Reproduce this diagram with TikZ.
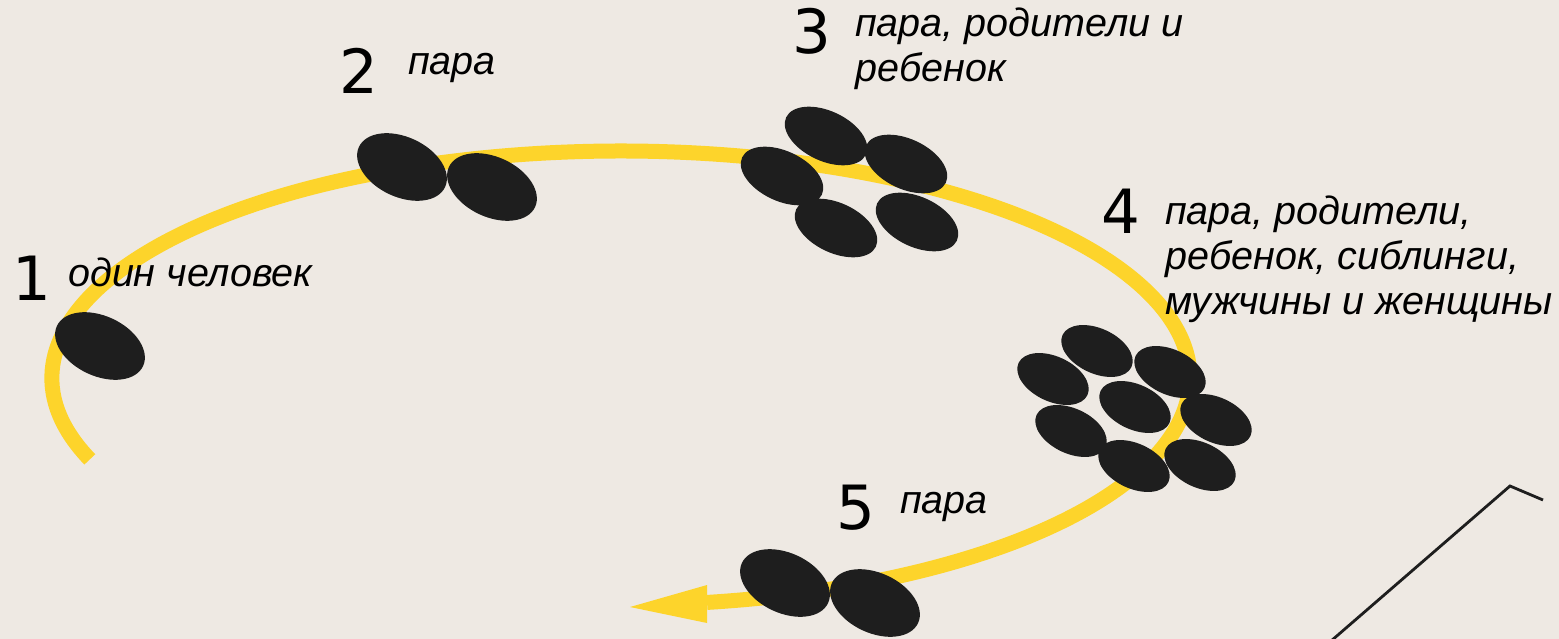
\documentclass[tikz,border=0pt]{standalone}
\usepackage{fontspec}
\setmainfont{Liberation Sans}
\newfontfamily\digitfont{DejaVu Sans}
\usetikzlibrary{shapes.geometric}
\definecolor{bgc}{HTML}{EEE9E3}
\definecolor{yel}{HTML}{FDD42B}
\definecolor{blk}{HTML}{1E1E1E}
\begin{document}
\begin{tikzpicture}[x=1pt,y=-1pt,
  lbl/.style={anchor=base west, inner sep=0pt, font=\fontsize{39.5}{45}\selectfont\itshape},
  num/.style={anchor=base, inner sep=0pt, font=\digitfont\fontsize{61}{61}\selectfont},
  person/.style={ellipse, fill=blk, inner sep=0pt, rotate=-25},
  big/.style={person, minimum width=95pt, minimum height=60pt},
  mid/.style={person, minimum width=88pt, minimum height=50pt},
  small/.style={person, minimum width=76pt, minimum height=45pt},
  road/.style={draw=yel, line width=15pt}]
\fill[bgc] (0,0) rectangle (1559,639);
\useasboundingbox (0,0) rectangle (1559,639);
% road
\coordinate (tail) at (89.8,459.4);
\coordinate (tip) at (630,607);
\coordinate (ab1) at (707,585);
\coordinate (ab2) at (707,623);
\draw[road] (tail) arc[start angle=159, end angle=441.3, x radius=569, y radius=227];
\fill[yel] (tip) -- (ab1) -- (ab2) -- cycle;
% people
\node[big] (p1) at (100,346) {};
\node[big] (p2a) at (402,167) {};
\node[big] (p2b) at (492,187) {};
\node[mid] (p3a) at (826,136) {};
\node[mid] (p3b) at (782,176) {};
\node[mid] (p3c) at (906,164) {};
\node[mid] (p3d) at (836,228) {};
\node[mid] (p3e) at (917,222) {};
\node[small] (p4a) at (1097,351) {};
\node[small] (p4b) at (1053,379) {};
\node[small] (p4c) at (1170,372) {};
\node[small] (p4d) at (1135,407) {};
\node[small] (p4e) at (1216,420) {};
\node[small] (p4f) at (1071,431) {};
\node[small] (p4g) at (1134,466) {};
\node[small] (p4h) at (1200,465) {};
\node[big] (p5a) at (785,583) {};
\node[big] (p5b) at (875,603) {};
% numbers
\node[num] (n1) at (32,301) {1};
\node[num] (n2) at (359,94) {2};
\node[num] (n3) at (812,54) {3};
\node[num] (n4) at (1121,234) {4};
\node[num] (n5) at (856,529) {5};
% labels
\node[lbl] (t1) at (68,287) {один человек};
\node[lbl] (t2) at (408,75) {пара};
\node[lbl] (t3) at (855,37) {\begin{tabular}[t]{@{}l@{}}пара, родители и\\ребенок\end{tabular}};
\node[lbl] (t4) at (1165,225) {\begin{tabular}[t]{@{}l@{}}пара, родители,\\ребенок, сиблинги,\\мужчины и женщины\end{tabular}};
\node[lbl] (t5) at (900,513) {пара};
% corner line
\coordinate (c1) at (1331,641);
\coordinate (c2) at (1510,486);
\coordinate (c3) at (1543,500);
\draw[blk, line width=2.8pt] (c1) -- (c2) -- (c3);
\end{tikzpicture}
\end{document}
